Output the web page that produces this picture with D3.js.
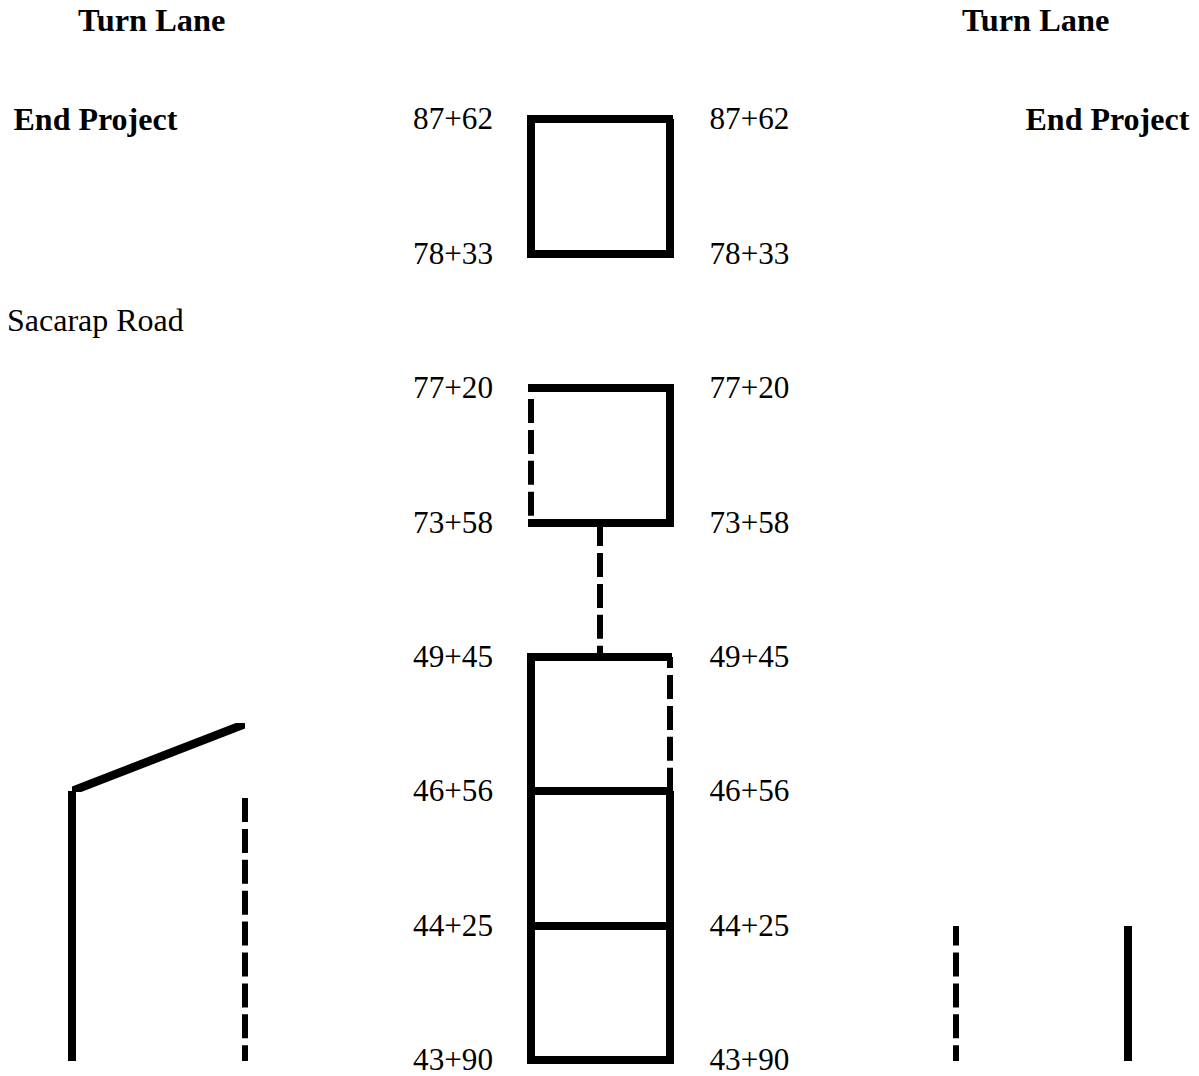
<!DOCTYPE html>
<html>
<head>
<meta charset="utf-8">
<script src="https://cdn.jsdelivr.net/npm/d3@7"></script>
<style>
  html, body { margin: 0; padding: 0; background: #fff; }
  svg { display: block; }
  text { font-family: "Liberation Serif", "Times New Roman", serif; font-size: 32px; fill: #000; }
  .head { font-weight: bold; }
  .station { font-size: 31.2px; }
</style>
</head>
<body>
<div id="chart"></div>
<script>
// stations top to bottom, evenly spaced on the sheet
const stations = ['87+62', '78+33', '77+20', '73+58', '49+45', '46+56', '44+25', '43+90'];

const lanes = ['turnOuterL', 'turnInnerL', 'roadL', 'roadC', 'roadR', 'turnInnerR', 'turnOuterR'];

const headings = ['Turn Lane', 'End Project'];
const roadName = 'Sacarap Road';

// station index ranges for each run
const solidRuns = [
  ['roadL', 0, 1], ['roadR', 0, 1],
  ['roadR', 2, 3],
  ['roadL', 4, 7], ['roadR', 5, 7],
  ['turnOuterL', 5, 7], ['turnOuterR', 6, 7]
];
const dashedRuns = [
  ['roadL', 2, 3], ['roadC', 3, 4], ['roadR', 4, 5],
  ['turnInnerL', 5, 7], ['turnInnerR', 6, 7]
];
// the taper of the left turn lane, ends half way up the 49+45 / 46+56 block
const taper = [['turnOuterL', 5], ['turnInnerL', 4.5]];

const width = 1199, height = 1076;
const solidWidth = 8, dashedWidth = 6, taperWidth = 8.5;
const dashOn = 24, dashOff = 6.9;
// y where a dash starts, one for each dashed run
const dashAnchors = [399, 553, 675, 798, 798];
// the drawn cross lines do not all reach quite as far, px per station
const crossTrimL = [0, 0, 1, 1, 0, 0, 0, 0];
const crossTrimR = [1, 0, 0, 0, 2, 1, 0, 0];

const svg = d3.select('#chart').append('svg')
    .attr('width', width)
    .attr('height', height);

const y = d3.scaleLinear()
    .domain([0, stations.length - 1])
    .range([119.3, 1060.2])
    .interpolate(d3.interpolateRound);

const x = d3.scaleOrdinal()
    .domain(lanes)
    .range([72, 245, 531, 600, 670, 956, 1128]);

// solid runs
svg.append('g').selectAll('line')
    .data(solidRuns)
    .join('line')
    .attr('x1', d => x(d[0]))
    .attr('x2', d => x(d[0]))
    .attr('y1', d => y(d[1]))
    .attr('y2', d => y(d[2]) + 1)
    .attr('stroke', '#000')
    .attr('stroke-width', solidWidth);

// dashed runs
svg.append('g').selectAll('line')
    .data(dashedRuns)
    .join('line')
    .attr('x1', d => x(d[0]))
    .attr('x2', d => x(d[0]))
    .attr('y1', d => y(d[1]))
    .attr('y2', d => y(d[2]) + 1)
    .attr('stroke', '#000')
    .attr('stroke-width', dashedWidth)
    .attr('stroke-dasharray', dashOn + ' ' + dashOff)
    .attr('stroke-dashoffset', (d, i) => y(d[1]) - dashAnchors[i] + (dashOn + dashOff) * 2);

// cross lines at every station
svg.append('g').selectAll('line')
    .data(stations)
    .join('line')
    .attr('x1', (d, i) => x('roadL') + crossTrimL[i])
    .attr('x2', (d, i) => x('roadR') - crossTrimR[i])
    .attr('y1', (d, i) => y(i))
    .attr('y2', (d, i) => y(i))
    .attr('stroke', '#000')
    .attr('stroke-width', solidWidth)
    .attr('stroke-linecap', 'square');

// taper, ends cut off square to the page
svg.append('clipPath')
    .attr('id', 'taperClip')
  .append('rect')
    .attr('x', x(taper[0][0]))
    .attr('y', y(taper[1][1]) - 1)
    .attr('width', x(taper[1][0]) - x(taper[0][0]))
    .attr('height', y(taper[0][1]) - y(taper[1][1]) + 2);

svg.append('path')
    .datum(taper)
    .attr('d', d3.line().x(d => x(d[0])).y(d => y(d[1])))
    .attr('fill', 'none')
    .attr('stroke', '#000')
    .attr('stroke-width', taperWidth)
    .attr('stroke-linecap', 'square')
    .attr('clip-path', 'url(#taperClip)');

// station labels both sides of the road
svg.append('g').selectAll('text')
    .data(stations)
    .join('text')
    .attr('class', 'station')
    .attr('x', 493)
    .attr('y', (d, i) => y(i) + 10)
    .attr('text-anchor', 'end')
    .text(d => d);

svg.append('g').selectAll('text')
    .data(stations)
    .join('text')
    .attr('class', 'station')
    .attr('x', 709.5)
    .attr('y', (d, i) => y(i) + 10)
    .text(d => d);

// headings
const headX = [[78, 962], [13.5, 1025.5]];
const headY = [31, 130];
const headSize = [32.4, 32];
headings.forEach((h, i) => {
  headX[i].forEach(px => {
    svg.append('text')
        .attr('class', 'head')
        .attr('x', px)
        .attr('y', headY[i])
        .style('font-size', headSize[i] + 'px')
        .text(h);
  });
});

svg.append('text')
    .attr('x', 7)
    .attr('y', 331)
    .text(roadName);
</script>
</body>
</html>
